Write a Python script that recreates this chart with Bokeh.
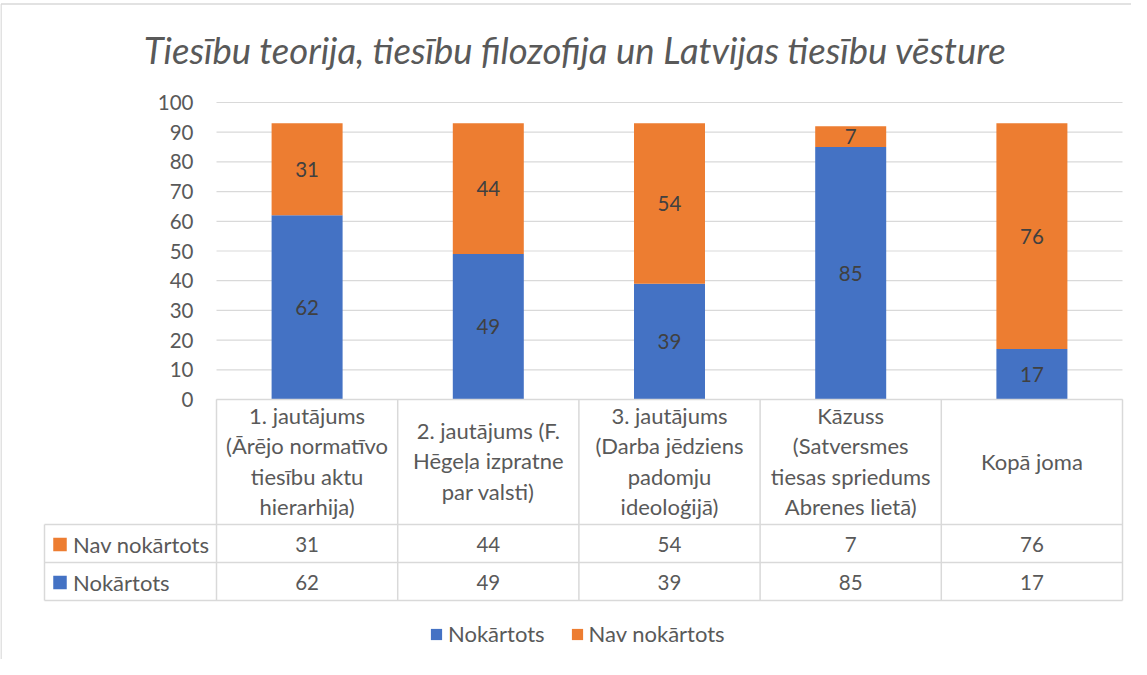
from bokeh.plotting import figure
from bokeh.models import Range1d, LinearAxis, FixedTicker, Legend, LegendItem, ColumnDataSource
from bokeh.core.properties import value
from bokeh.embed import file_html
from bokeh.resources import INLINE

# ---------------- data ----------------
title_text = "Tiesību teorija, tiesību filozofija un Latvijas tiesību vēsture"
categories = [
    "1. jautājums\n(Ārējo normatīvo\ntiesību aktu\nhierarhija)",
    "2. jautājums (F.\nHēgeļa izpratne\npar valsti)",
    "3. jautājums\n(Darba jēdziens\npadomju\nideoloģijā)",
    "Kāzuss\n(Satversmes\ntiesas spriedums\nAbrenes lietā)",
    "Kopā joma",
]
series_names = ["Nokārtots", "Nav nokārtots"]
passed = [62, 49, 39, 85, 17]
failed = [31, 44, 54, 7, 76]
y_ticks = [0, 10, 20, 30, 40, 50, 60, 70, 80, 90, 100]
colors = ["#4472C4", "#ED7D31"]

# ---------------- layout (page pixels) ----------------
W, H = 1131, 659
OX, OY = 8, 8
PLOT_L, PLOT_R = 224, 1130
Y0_PX, Y100_PX = 407, 110
TABLE_L = 52
ROW_LINES = [532, 570, 608]
FONT = "Lato"
TXT = "#595959"
LBL = "#404040"
GRID = "#D9D9D9"
FS_TXT = "22px"
FS_NUM = "20.5px"

n = len(categories)
col_w = (PLOT_R - PLOT_L) / n
unit = (Y0_PX - Y100_PX) / (y_ticks[-1] - y_ticks[0])


def px_to_dx(P):
    return (P - PLOT_L) / col_w - 0.5


def py_to_dy(P):
    return (Y0_PX - P) / unit


p = figure(width=W, height=H,
           x_range=Range1d(px_to_dx(OX), px_to_dx(OX + W)),
           y_range=Range1d(py_to_dy(OY + H), py_to_dy(OY)),
           output_backend="svg", toolbar_location=None, min_border=0,
           x_axis_type=None, y_axis_type=None, outline_line_color=None,
           background_fill_color="white", border_fill_color="white")
p.extra_x_ranges = {"px": Range1d(OX, OX + W)}
p.extra_y_ranges = {"px": Range1d(OY + H, OY)}

# outer chart border (left & top visible)
p.segment(x0=[OX + 0.5, OX + 0.5], y0=[11.5, 11.5], x1=[OX + 0.5, OX + W + 5], y1=[OY + H + 5, 11.5],
          line_color=GRID, line_width=1.5, x_range_name="px", y_range_name="px")

# title
p.text(x=[583], y=[57], text=[title_text], x_range_name="px", y_range_name="px",
       text_font=value(FONT), text_font_style="italic", text_font_size="36.5px", text_color=TXT,
       text_align="center", text_baseline="middle")

# gridlines
p.segment(x0=-0.5, x1=n - 0.5, y0=y_ticks, y1=y_ticks, line_color=GRID, line_width=1.2)

# y axis
yax = LinearAxis(ticker=FixedTicker(ticks=y_ticks), fixed_location=-0.5)
yax.axis_line_color = None
yax.major_tick_line_color = None
yax.minor_tick_line_color = None
yax.major_label_standoff = 17
yax.major_label_text_font = FONT
yax.major_label_text_font_size = FS_NUM
yax.major_label_text_color = TXT
p.add_layout(yax, "left")

# stacked bars
xs = list(range(n))
src = ColumnDataSource({"x": xs, series_names[0]: passed, series_names[1]: failed})
rs = p.vbar_stack(series_names, x="x", width=71 / col_w, color=colors, line_color=None, source=src)

# bar labels
mids_a = [v / 2 for v in passed]
mids_b = [a + b / 2 for a, b in zip(passed, failed)]
p.text(x=xs + xs, y=mids_a + mids_b, text=[str(v) for v in passed + failed],
       text_font=value(FONT), text_font_size=FS_NUM, text_color=LBL,
       text_align="center", text_baseline="middle")

# ---------------- data table ----------------
bounds = [PLOT_L + k * col_w for k in range(n + 1)]
p.segment(x0=bounds, x1=bounds, y0=[Y0_PX] * (n + 1), y1=[ROW_LINES[-1]] * (n + 1),
          line_color=GRID, line_width=1.5, x_range_name="px", y_range_name="px")
p.segment(x0=[TABLE_L], x1=[TABLE_L], y0=[ROW_LINES[0]], y1=[ROW_LINES[-1]],
          line_color=GRID, line_width=1.5, x_range_name="px", y_range_name="px")
p.segment(x0=[PLOT_L] + [TABLE_L] * 3, x1=[PLOT_R] * 4, y0=[Y0_PX] + ROW_LINES, y1=[Y0_PX] + ROW_LINES,
          line_color=GRID, line_width=1.5, x_range_name="px", y_range_name="px")

# header labels
p.text(x=xs, y=[468.5] * n, text=categories, y_range_name="px",
       text_font=value(FONT), text_font_size=FS_TXT, text_color=TXT, text_line_height=1.12,
       text_align="center", text_baseline="middle")

# table rows (top row = second series)
row_series = [1, 0]
row_vals = [failed, passed]
for r, (si, vals) in enumerate(zip(row_series, row_vals)):
    yc = (ROW_LINES[r] + ROW_LINES[r + 1]) / 2 + 1
    p.rect(x=[TABLE_L + 15.5], y=[yc], width=13.5, height=13.5, fill_color=colors[si], line_color=None,
           x_range_name="px", y_range_name="px")
    p.text(x=[TABLE_L + 28.5], y=[yc], text=[series_names[si]], x_range_name="px", y_range_name="px",
           text_font=value(FONT), text_font_size=FS_TXT, text_color=TXT,
           text_align="left", text_baseline="middle")
    p.text(x=xs, y=[yc] * n, text=[str(v) for v in vals], y_range_name="px",
           text_font=value(FONT), text_font_size=FS_NUM, text_color=TXT,
           text_align="center", text_baseline="middle")

# legend
legend = Legend(items=[LegendItem(label=series_names[i], renderers=[rs[i]]) for i in range(2)],
                orientation="horizontal", location=(429, 12),
                border_line_color=None, background_fill_alpha=0,
                padding=0, margin=0, spacing=25, label_standoff=5,
                glyph_width=14, glyph_height=14, label_height=20,
                label_text_font=FONT, label_text_font_size=FS_TXT, label_text_color=TXT)
p.add_layout(legend)

open("out.html", "w").write(file_html(p, INLINE))
